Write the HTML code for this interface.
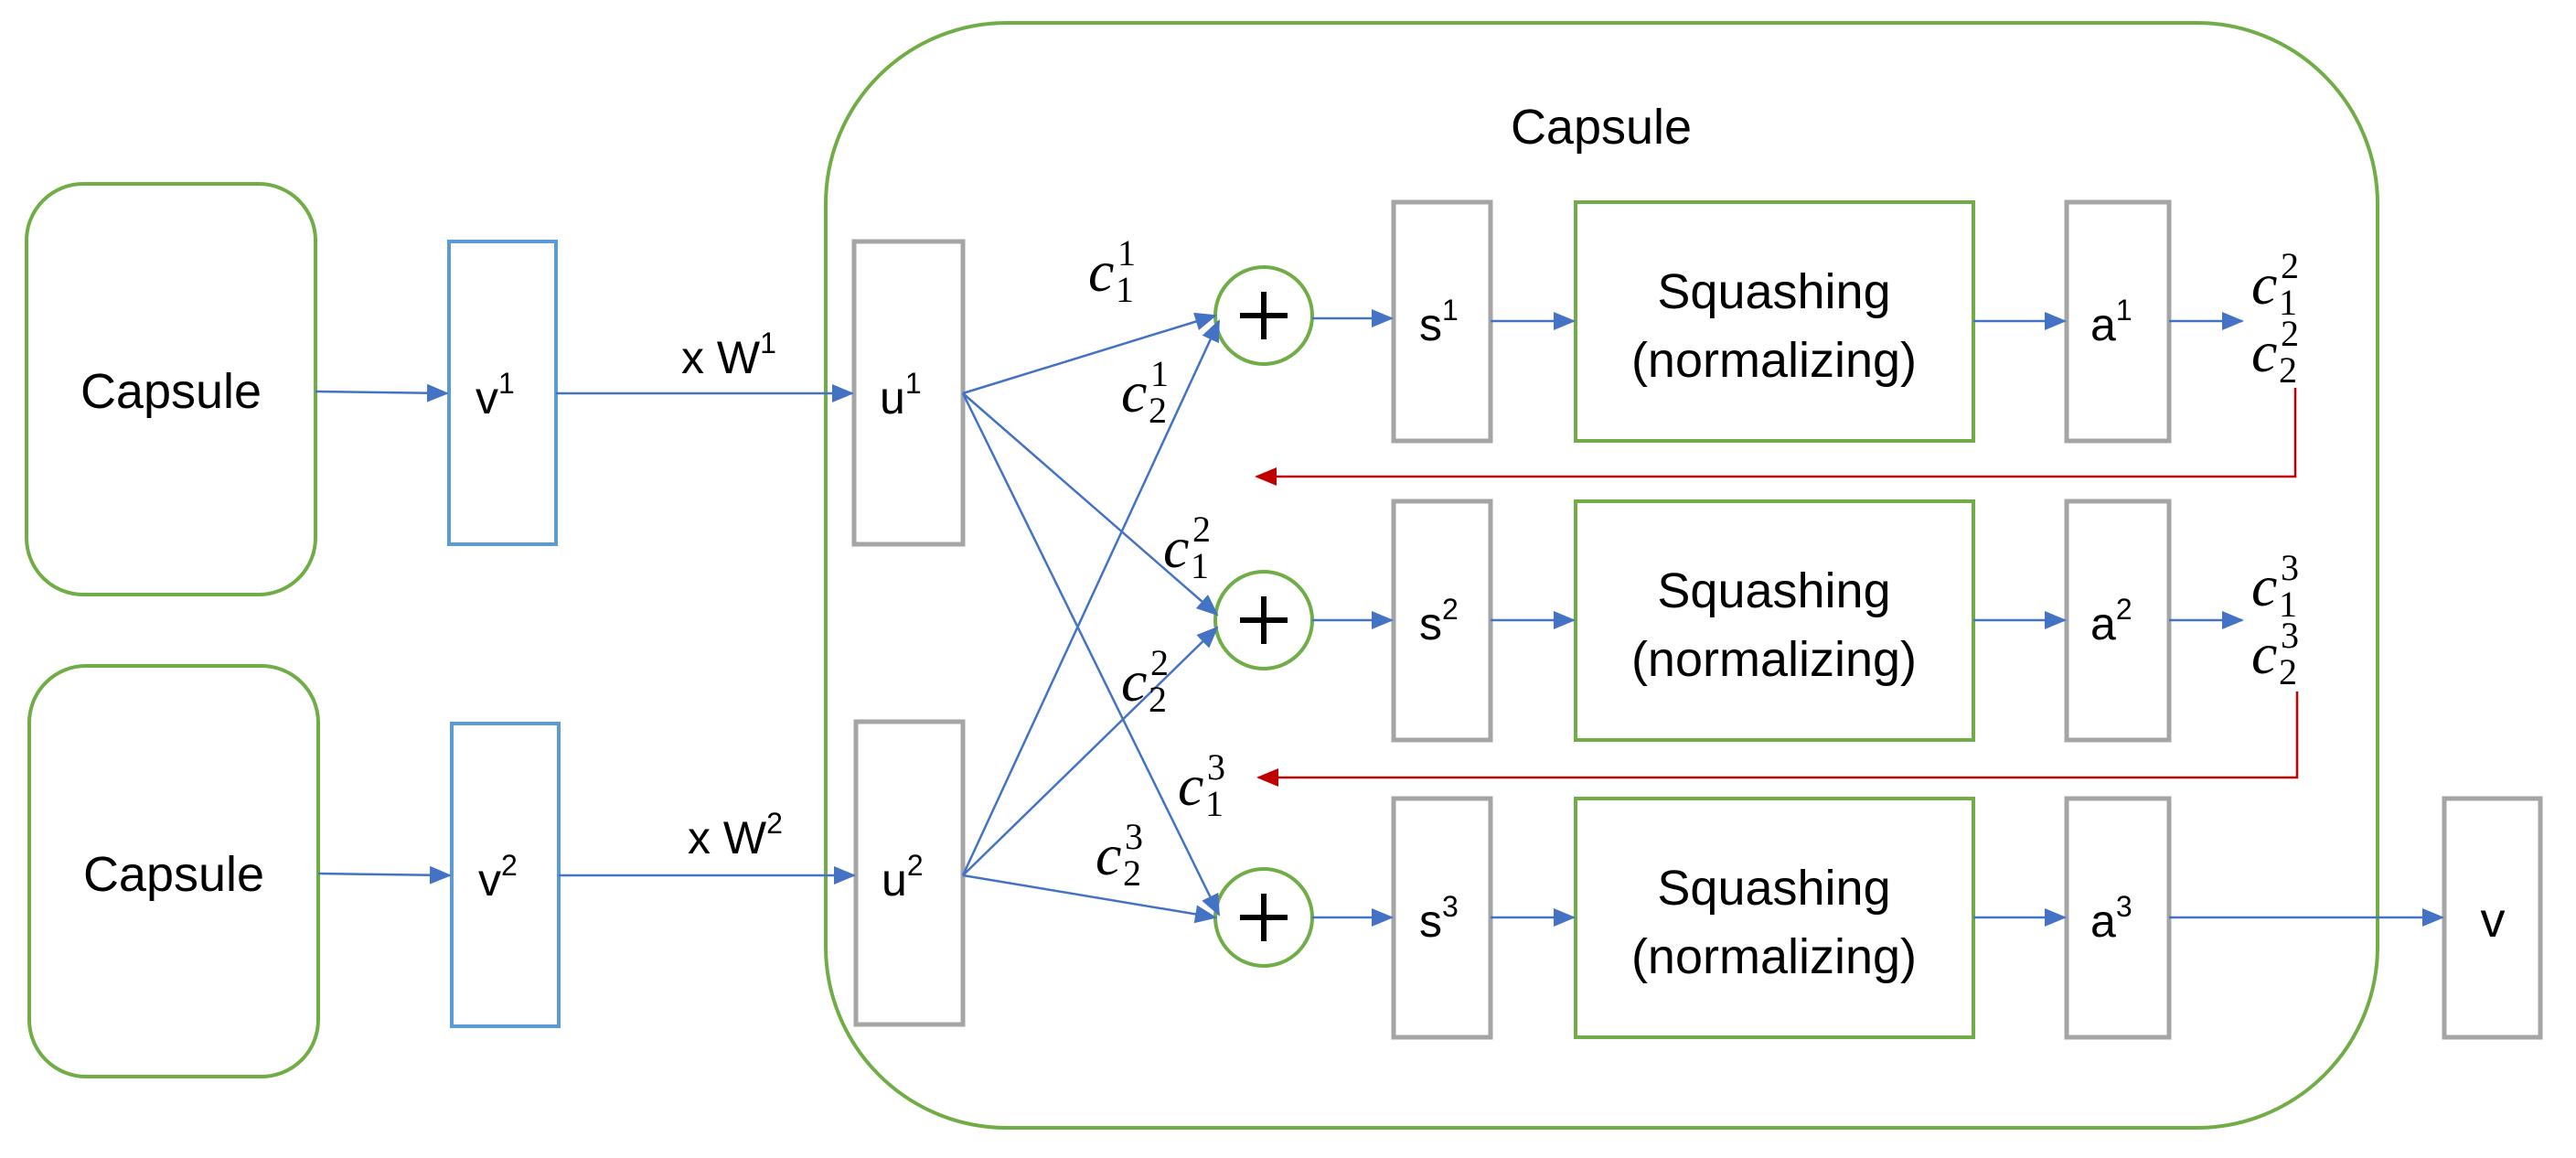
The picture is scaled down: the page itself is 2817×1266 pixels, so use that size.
<!DOCTYPE html>
<html><head><meta charset="utf-8"><style>
html,body{margin:0;padding:0;background:#fff}
svg{display:block}
text{font-family:"Liberation Sans",sans-serif;fill:#000}
.c{font-family:"Liberation Serif",serif;font-style:italic;font-size:64px}
.d{font-family:"Liberation Serif",serif;font-style:normal;font-size:40px}
</style></head><body>
<svg width="2817" height="1266" viewBox="0 0 2817 1266" xmlns="http://www.w3.org/2000/svg">
<defs>
<marker id="bb" markerWidth="24" markerHeight="20" refX="22" refY="10" orient="auto" markerUnits="userSpaceOnUse"><path d="M0,0 L24,10 L0,20 z" fill="#4472c4"/></marker>
<marker id="rr" markerWidth="24" markerHeight="20" refX="22" refY="10" orient="auto" markerUnits="userSpaceOnUse"><path d="M0,0 L24,10 L0,20 z" fill="#c00000"/></marker>
</defs>
<g fill="none" stroke="#70ad47" stroke-width="4">
<rect x="29" y="201" width="316" height="449" rx="62"/>
<rect x="32" y="728" width="316" height="449" rx="62"/>
<rect x="903" y="25" width="1697" height="1208" rx="198"/>
<rect x="1723" y="221" width="435" height="261"/>
<rect x="1723" y="548" width="435" height="261"/>
<rect x="1723" y="873" width="435" height="261"/>
<circle cx="1382" cy="345" r="53"/>
<circle cx="1382" cy="678" r="53"/>
<circle cx="1382" cy="1003" r="53"/>
</g>
<g fill="none" stroke="#5b9bd5" stroke-width="4">
<rect x="491" y="264" width="117" height="331"/>
<rect x="494" y="791" width="117" height="331"/>
</g>
<g fill="none" stroke="#a5a5a5" stroke-width="5">
<rect x="934" y="264" width="119" height="331"/>
<rect x="936" y="789" width="117" height="331"/>
<rect x="1524" y="221" width="106" height="261"/>
<rect x="1524" y="548" width="106" height="261"/>
<rect x="1524" y="873" width="106" height="261"/>
<rect x="2260" y="221" width="112" height="261"/>
<rect x="2260" y="548" width="112" height="261"/>
<rect x="2260" y="873" width="112" height="261"/>
<rect x="2673" y="873" width="105" height="261"/>
</g>
<g stroke="#4472c4" stroke-width="2.5" fill="none" marker-end="url(#bb)">
<line x1="345" y1="428" x2="489" y2="430"/>
<line x1="348" y1="955" x2="492" y2="957"/>
<line x1="608" y1="430" x2="932" y2="430"/>
<line x1="611" y1="957" x2="934" y2="957"/>
<line x1="1053" y1="430" x2="1329" y2="345"/>
<line x1="1053" y1="430" x2="1331" y2="672"/>
<line x1="1053" y1="430" x2="1333" y2="1000"/>
<line x1="1053" y1="957" x2="1333" y2="351"/>
<line x1="1053" y1="957" x2="1331" y2="686"/>
<line x1="1053" y1="957" x2="1329" y2="1003"/>
<line x1="1435" y1="348" x2="1522" y2="348"/>
<line x1="1435" y1="678" x2="1522" y2="678"/>
<line x1="1435" y1="1003" x2="1522" y2="1003"/>
<line x1="1630" y1="351" x2="1721" y2="351"/>
<line x1="1630" y1="678" x2="1721" y2="678"/>
<line x1="1630" y1="1003" x2="1721" y2="1003"/>
<line x1="2158" y1="351" x2="2258" y2="351"/>
<line x1="2158" y1="678" x2="2258" y2="678"/>
<line x1="2158" y1="1003" x2="2258" y2="1003"/>
<line x1="2372" y1="351" x2="2452" y2="351"/>
<line x1="2372" y1="678" x2="2452" y2="678"/>
<line x1="2372" y1="1003" x2="2671" y2="1003"/>
</g>
<g stroke="#c00000" stroke-width="2.5" fill="none" marker-end="url(#rr)">
<polyline points="2510,424 2510,521 1374,521"/>
<polyline points="2512,756 2512,850 1376,850"/>
</g>
<g font-size="54" text-anchor="middle">
<text x="187" y="446">Capsule</text>
<text x="190" y="974">Capsule</text>
<text x="1751" y="157">Capsule</text>
<text x="1940" y="337">Squashing</text>
<text x="1940" y="412">(normalizing)</text>
<text x="1940" y="664">Squashing</text>
<text x="1940" y="739">(normalizing)</text>
<text x="1940" y="989">Squashing</text>
<text x="1940" y="1064">(normalizing)</text>
<text x="2726" y="1024">v</text>
</g>
<g font-size="50">
<text x="520" y="452">v<tspan font-size="32" dy="-22">1</tspan></text>
<text x="523" y="979">v<tspan font-size="32" dy="-22">2</tspan></text>
<text x="962" y="452">u<tspan font-size="32" dy="-22">1</tspan></text>
<text x="964" y="979">u<tspan font-size="32" dy="-22">2</tspan></text>
<text x="745" y="408">x W<tspan font-size="32" dy="-22">1</tspan></text>
<text x="752" y="933">x W<tspan font-size="32" dy="-22">2</tspan></text>
<text x="1552" y="372">s<tspan font-size="32" dy="-22">1</tspan></text>
<text x="1552" y="699">s<tspan font-size="32" dy="-22">2</tspan></text>
<text x="1552" y="1024">s<tspan font-size="32" dy="-22">3</tspan></text>
<text x="2286" y="372">a<tspan font-size="32" dy="-22">1</tspan></text>
<text x="2286" y="699">a<tspan font-size="32" dy="-22">2</tspan></text>
<text x="2286" y="1024">a<tspan font-size="32" dy="-22">3</tspan></text>
</g>
<g>
<text class="c" x="1190" y="318">c</text><text class="d" x="1222" y="290">1</text><text class="d" x="1220" y="330">1</text>
<text class="c" x="1226" y="450">c</text><text class="d" x="1258" y="422">1</text><text class="d" x="1256" y="462">2</text>
<text class="c" x="1272" y="620">c</text><text class="d" x="1304" y="592">2</text><text class="d" x="1302" y="632">1</text>
<text class="c" x="1226" y="766">c</text><text class="d" x="1258" y="738">2</text><text class="d" x="1256" y="778">2</text>
<text class="c" x="1288" y="880">c</text><text class="d" x="1320" y="852">3</text><text class="d" x="1318" y="892">1</text>
<text class="c" x="1198" y="956">c</text><text class="d" x="1230" y="928">3</text><text class="d" x="1228" y="968">2</text>
<text class="c" x="2462" y="332">c</text><text class="d" x="2494" y="304">2</text><text class="d" x="2492" y="344">1</text>
<text class="c" x="2462" y="406">c</text><text class="d" x="2494" y="378">2</text><text class="d" x="2492" y="418">2</text>
<text class="c" x="2462" y="662">c</text><text class="d" x="2494" y="634">3</text><text class="d" x="2492" y="674">1</text>
<text class="c" x="2462" y="736">c</text><text class="d" x="2494" y="708">3</text><text class="d" x="2492" y="748">2</text>
</g>
<g stroke="#000" stroke-width="6">
<line x1="1356" y1="345" x2="1408" y2="345"/><line x1="1382" y1="319" x2="1382" y2="371"/>
<line x1="1356" y1="678" x2="1408" y2="678"/><line x1="1382" y1="652" x2="1382" y2="704"/>
<line x1="1356" y1="1003" x2="1408" y2="1003"/><line x1="1382" y1="977" x2="1382" y2="1029"/>
</g>
</svg>
</body></html>
